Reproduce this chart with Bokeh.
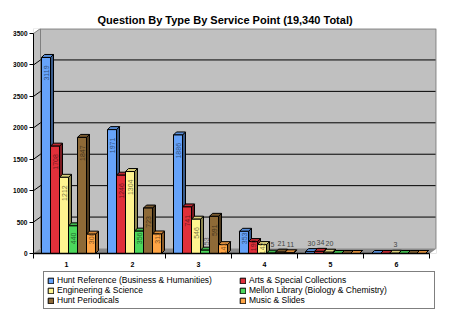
import math
from bokeh.plotting import figure
from bokeh.layouts import column
from bokeh.models import FixedTicker, Legend, LegendItem, Range1d
from bokeh.core.properties import value
from bokeh.embed import file_html
from bokeh.resources import INLINE

# ---------------- data ----------------
categories = ["1", "2", "3", "4", "5", "6"]
series_names = [
    "Hunt Reference (Business & Humanities)",
    "Arts & Special Collections",
    "Engineering & Science",
    "Mellon Library (Biology & Chemistry)",
    "Hunt Periodicals",
    "Music & Slides",
]
hunt_reference = [3119, 1971, 1886, 353, 30, 0]
arts_special = [1708, 1246, 741, 190, 34, 0]
engineering = [1212, 1304, 546, 142, 20, 3]
mellon_library = [440, 356, 53, 5, 0, 0]
hunt_periodicals = [1847, 723, 591, 21, 0, 0]
music_slides = [308, 311, 141, 11, 0, 0]
y_ticks = [0, 500, 1000, 1500, 2000, 2500, 3000, 3500]
title_text = "Question By Type By Service Point (19,340 Total)"

series_values = [hunt_reference, arts_special, engineering,
                 mellon_library, hunt_periodicals, music_slides]
colors = ["#66A3FA", "#E0303A", "#FFF490", "#4CD85C", "#8E6A37", "#FFA545"]

# ---------------- geometry ----------------
W = 458
H_MAIN, H_LEG = 270, 42
LEFT, RIGHT, TOP, BOTTOM = 33, 22, 28, 17
frame_w = W - LEFT - RIGHT
frame_h = H_MAIN - TOP - BOTTOM
PX_X = 66.0
X0 = 0.5
X1 = X0 + frame_w / PX_X
Y1 = 3580.0
ux = 1.0 / PX_X
uy = Y1 / frame_h
bw = 9 * ux
g0 = 8 * ux
ddx, ddy = 3 * ux, 3 * uy
wdx, wdy = 7 * ux, 5 * uy

FONT = "Liberation Sans"


def mix(hexc, f, tgt=(0, 0, 0)):
    r, g, b = int(hexc[1:3], 16), int(hexc[3:5], 16), int(hexc[5:7], 16)
    r = round(r + (tgt[0] - r) * f)
    g = round(g + (tgt[1] - g) * f)
    b = round(b + (tgt[2] - b) * f)
    return "#%02x%02x%02x" % (r, g, b)


p = figure(width=W, height=H_MAIN, output_backend="svg", toolbar_location=None,
           x_range=Range1d(X0, X1), y_range=Range1d(0, Y1),
           min_border_left=LEFT, min_border_right=RIGHT,
           min_border_top=TOP, min_border_bottom=BOTTOM,
           title=title_text)
p.title.text_font = FONT
p.title.text_font_size = "11px"
p.title.text_font_style = "bold"
p.title.text_color = "black"
p.title.align = "left"
p.title.offset = 64
p.title.standoff = 6
p.background_fill_color = "#C0C0C0"
p.border_fill_color = "white"
p.outline_line_color = None
p.xgrid.visible = False
p.ygrid.visible = False

# white corner cut-outs of the 3D box
p.patches(xs=[[X0, X0 + wdx, X0], [X1 - wdx, X1, X1]],
          ys=[[3500, 3500 + wdy, Y1 + 50], [0, 0, wdy]],
          fill_color="white", line_color=None)
# floor
p.patch(x=[X0, X1 - wdx, X1, X0 + wdx], y=[0, 0, wdy, wdy],
        fill_color="#8A8A8A", line_color=None)
# back wall border
p.line(x=[X0 + wdx, X0 + wdx, X1 - 0.5 * ux, X1 - 0.5 * ux],
       y=[wdy, 3500 + wdy - 0.5 * uy, 3500 + wdy - 0.5 * uy, wdy],
       line_color="#808080", line_width=1)
p.line(x=[X0, X0 + wdx], y=[3500, 3500 + wdy], line_color="#808080")
# gridlines on the back wall
gt = [t for t in y_ticks if 0 < t < 3500]
p.segment(x0=[X0] * len(gt), y0=gt, x1=[X0 + wdx] * len(gt), y1=[t + wdy for t in gt],
          line_color="black", line_width=1)
p.segment(x0=[X0 + wdx] * len(gt), y0=[t + wdy for t in gt],
          x1=[X1 - ux] * len(gt), y1=[t + wdy for t in gt],
          line_color="black", line_width=1)

# ---------------- bars ----------------
side_xs, side_ys, side_c = [], [], []
top_xs, top_ys, top_c = [], [], []
fronts = []
for s, vals in enumerate(series_values):
    lefts, rights, tops = [], [], []
    for i, v in enumerate(vals):
        xl = (i + 1) - 0.5 + g0 + s * bw
        xr = xl + bw
        lefts.append(xl)
        rights.append(xr)
        tops.append(v)
        side_xs.append([xr, xr + ddx, xr + ddx, xr])
        side_ys.append([0, ddy, v + ddy, v])
        side_c.append(mix(colors[s], 0.45))
        top_xs.append([xl, xl + ddx, xr + ddx, xr])
        top_ys.append([v, v + ddy, v + ddy, v])
        top_c.append(mix(colors[s], 0.15))
    fronts.append((lefts, rights, tops))

p.patches(xs=side_xs, ys=side_ys, fill_color=side_c, line_color="black", line_width=1)
p.patches(xs=top_xs, ys=top_ys, fill_color=top_c, line_color="black", line_width=1)

for s, (lefts, rights, tops) in enumerate(fronts):
    p.quad(left=lefts, right=rights, bottom=[0] * len(tops), top=tops,
           fill_color=colors[s], line_color="black", line_width=1)

# ---------------- value labels ----------------
in_x, in_y, in_t, in_c = [], [], [], []
ab_x, ab_y, ab_t = [], [], []
hz_x, hz_y, hz_t = [], [], []
for s, vals in enumerate(series_values):
    for i, v in enumerate(vals):
        if v == 0:
            continue
        cx = (i + 1) - 0.5 + g0 + s * bw + bw / 2
        vpx = v / uy
        if v >= 140:
            end_px = max(vpx - 8, min(vpx + 2, 21))
            in_x.append(cx)
            in_y.append(end_px * uy)
            in_t.append(str(v))
            in_c.append(mix(colors[s], 0.5))
        elif v >= 40:
            ab_x.append(cx + ddx / 2)
            ab_y.append(v + ddy + 2 * uy)
            ab_t.append(str(v))
        else:
            hz_x.append(cx + ddx / 2)
            hz_y.append(v + ddy + 3 * uy)
            hz_t.append(str(v))

p.text(x=in_x, y=in_y, text=in_t, text_color=in_c, angle=math.pi / 2,
       text_align="right", text_baseline="middle",
       text_font=value(FONT), text_font_size="7px")
p.text(x=ab_x, y=ab_y, text=ab_t, text_color="#555555", angle=math.pi / 2,
       text_align="left", text_baseline="middle",
       text_font=value(FONT), text_font_size="7px")
p.text(x=hz_x, y=hz_y, text=hz_t, text_color="#444444",
       text_align="center", text_baseline="bottom",
       text_font=value(FONT), text_font_size="7px")

# ---------------- axes ----------------
ya = p.yaxis[0]
ya.ticker = FixedTicker(ticks=y_ticks)
ya.bounds = (0, 3500)
ya.axis_line_color = "black"
ya.major_tick_line_color = "black"
ya.major_tick_out = 4
ya.major_tick_in = 0
ya.minor_tick_line_color = None
ya.major_label_standoff = 2
ya.major_label_text_font = FONT
ya.major_label_text_font_size = "6.5px"
ya.major_label_text_font_style = "bold"
ya.major_label_text_color = "black"

xa = p.xaxis[0]
xa.ticker = FixedTicker(ticks=[1, 2, 3, 4, 5, 6],
                        minor_ticks=[0.5 + k for k in range(7)])
xa.bounds = (0.5, 6.5)
xa.major_label_overrides = {k + 1: c for k, c in enumerate(categories)}
xa.axis_line_color = "black"
xa.axis_line_width = 1.5
xa.major_tick_line_color = None
xa.minor_tick_line_color = "black"
xa.minor_tick_out = 5
xa.minor_tick_in = 0
xa.major_label_standoff = 2
xa.major_label_text_font = FONT
xa.major_label_text_font_size = "7px"
xa.major_label_text_font_style = "bold"
xa.major_label_text_color = "black"

# ---------------- legend (separate strip below the chart) ----------------
lf = figure(width=W, height=H_LEG, output_backend="svg", toolbar_location=None,
            x_range=Range1d(0, 1), y_range=Range1d(0, 1),
            x_axis_location=None, y_axis_location=None,
            min_border=0, outline_line_color=None)
lf.grid.visible = False
lf.border_fill_color = "white"
lf.background_fill_color = "white"

leg_r = []
for s in range(6):
    # one swatch per series, kept outside the visible range (only its legend glyph shows)
    leg_r.append(lf.quad(left=[5], right=[6], bottom=[5], top=[6],
                         fill_color=colors[s], line_color="black", line_width=1))

order = [0, 2, 4, 1, 3, 5]   # legend fills column by column
items = [LegendItem(label=series_names[s], renderers=[leg_r[s]]) for s in order]
legend = Legend(items=items, ncols=2, location=(10, 3),
                label_text_font=FONT, label_text_font_size="8.5px",
                label_text_color="black",
                label_height=9, label_width=182, label_standoff=3,
                glyph_width=7, glyph_height=7, spacing=0, padding=3,
                border_line_color="black", border_line_width=1,
                background_fill_color="white", margin=0)
lf.add_layout(legend, "center")

layout = column(p, lf, spacing=0)
open("out.html", "w").write(file_html(layout, INLINE))
